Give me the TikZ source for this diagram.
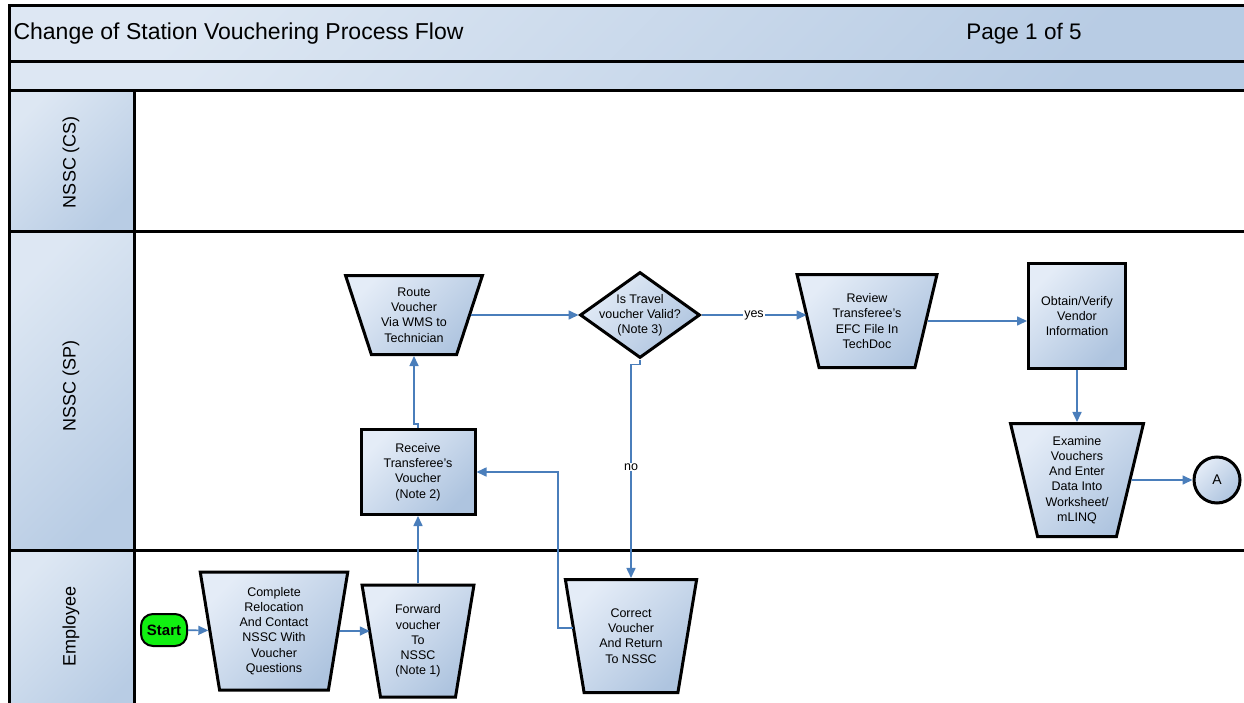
\documentclass[tikz,border=0pt]{standalone}
\usepackage{fontspec}
\setmainfont{Liberation Sans}
\usetikzlibrary{arrows.meta,shapes.geometric,positioning}
\definecolor{bandlight}{HTML}{DDE7F3}
\definecolor{banddark}{HTML}{B8CCE4}
\definecolor{nodelight}{HTML}{E4ECF7}
\definecolor{nodedark}{HTML}{AEC4DF}
\definecolor{flowblue}{HTML}{4A7EBB}
\definecolor{startgreen}{HTML}{11F011}
\tikzset{>={Triangle[length=10pt,width=9pt]}}
\tikzset{
  band/.style={draw, line width=3pt, top color=bandlight, bottom color=banddark, shading angle=45},
  lanename/.style={rotate=90, font=\fontsize{18}{20}\selectfont},
  shaded/.style={draw, line width=3pt, top color=nodelight, bottom color=nodedark, shading angle=45},
  manual/.style={shaded, trapezium, trapezium stretches=true, shape border rotate=180,
    align=center, inner sep=1pt, font=\fontsize{12.5}{15.2}\selectfont},
  task/.style={shaded, rectangle, align=center, inner sep=1pt, font=\fontsize{12.5}{15.2}\selectfont},
  decision/.style={shaded, diamond, align=center, inner sep=-16pt, font=\fontsize{12.5}{15.2}\selectfont},
  terminal/.style={draw, line width=2pt, fill=startgreen, rounded corners=12pt,
    minimum width=46, minimum height=32, inner sep=0pt, font=\bfseries\fontsize{15}{15}\selectfont},
  offpage/.style={shaded, circle, minimum size=46, inner sep=0pt, font=\fontsize{14}{14}\selectfont},
  flow/.style={->, draw=flowblue, line width=1.6pt},
  lbl/.style={fill=white, inner sep=1pt, font=\fontsize{12.5}{14}\selectfont}
}

\begin{document}
\begin{tikzpicture}[x=1pt, y=-1pt]
\useasboundingbox (0,0) rectangle (1244,703);
\clip (0,0) rectangle (1244,703);
\fill[white] (0,0) rectangle (1244,703);
\draw[band] (9,6) rectangle (1260,62);
\draw[band] (9,62) rectangle (1260,91);
\draw[band] (9,91) rectangle (134,232);
\draw[band] (9,232) rectangle (134,550);
\draw[band] (9,550) rectangle (134,720);
\draw[line width=3pt] (134,232) -- (1260,232);
\draw[line width=3pt] (134,550) -- (1260,550);
\node[anchor=west, font=\fontsize{23}{25}\selectfont] (title) at (10,34) {Change of Station Vouchering Process Flow};
\node[font=\fontsize{22.5}{24}\selectfont] (page) at (1024,34) {Page 1 of 5};
\node[lanename] (cs) at (71,162) {NSSC (CS)};
\node[lanename] (sp) at (71,386) {NSSC (SP)};
\node[lanename] (emp) at (71,626) {Employee};

\node[terminal] (start) at (164,630) {Start};
\node[manual, minimum width=148, minimum height=118, trapezium angle=82] (complete) at (274,631)
  {Complete\\Relocation\\And Contact\\NSSC With\\Voucher\\Questions};
\node[manual, minimum width=112, minimum height=112, trapezium angle=81] (forward) at (418,641)
  {Forward\\voucher\\To\\NSSC\\(Note 1)};
\node[task, minimum width=114, minimum height=85] (receive) at (418,472)
  {Receive\\Transferee’s\\Voucher\\(Note 2)};
\node[manual, minimum width=137, minimum height=79, trapezium angle=70] (route) at (414,315)
  {Route\\Voucher\\Via WMS to\\Technician};
\node[decision, minimum width=120, minimum height=86] (valid) at (640,315)
  {Is Travel\\voucher Valid?\\(Note 3)};
\node[manual, minimum width=140, minimum height=93, trapezium angle=74] (review) at (867,321)
  {Review\\Transferee’s\\EFC File In\\TechDoc};
\node[task, minimum width=97, minimum height=104] (obtain) at (1077,316)
  {Obtain/Verify\\Vendor\\Information};
\node[manual, minimum width=133, minimum height=113, trapezium angle=76] (examine) at (1077,480)
  {Examine\\Vouchers\\And Enter\\Data Into\\Worksheet/\\mLINQ};
\node[offpage] (conA) at (1217,480) {A};
\node[manual, minimum width=132, minimum height=113, trapezium angle=77] (correct) at (631,636)
  {Correct\\Voucher\\And Return\\To NSSC};

\draw[flow] (start) -- (complete);
\draw[flow] (complete.east) -- (complete.east -| forward.west);
\draw[flow] (forward) -- (receive);
\draw[flow] (receive.north) -- ++(0,-4) -| (route.south);
\draw[flow] (route.east) -- (route.east -| valid.west);
\draw[flow] (valid.east) -- node[lbl] {yes} (valid.east -| review.west);
\draw[flow] (review.east) -- (review.east -| obtain.west);
\draw[flow] (obtain) -- (examine);
\draw[flow] (examine) -- (conA);
\draw[flow] (valid.south) -- ++(0,5) -| node[lbl, pos=0.74] {no} (correct.north);
\draw[flow] ([yshift=8pt]correct.west) -- ++(-15,0) |- (receive.east);
\end{tikzpicture}
\end{document}
